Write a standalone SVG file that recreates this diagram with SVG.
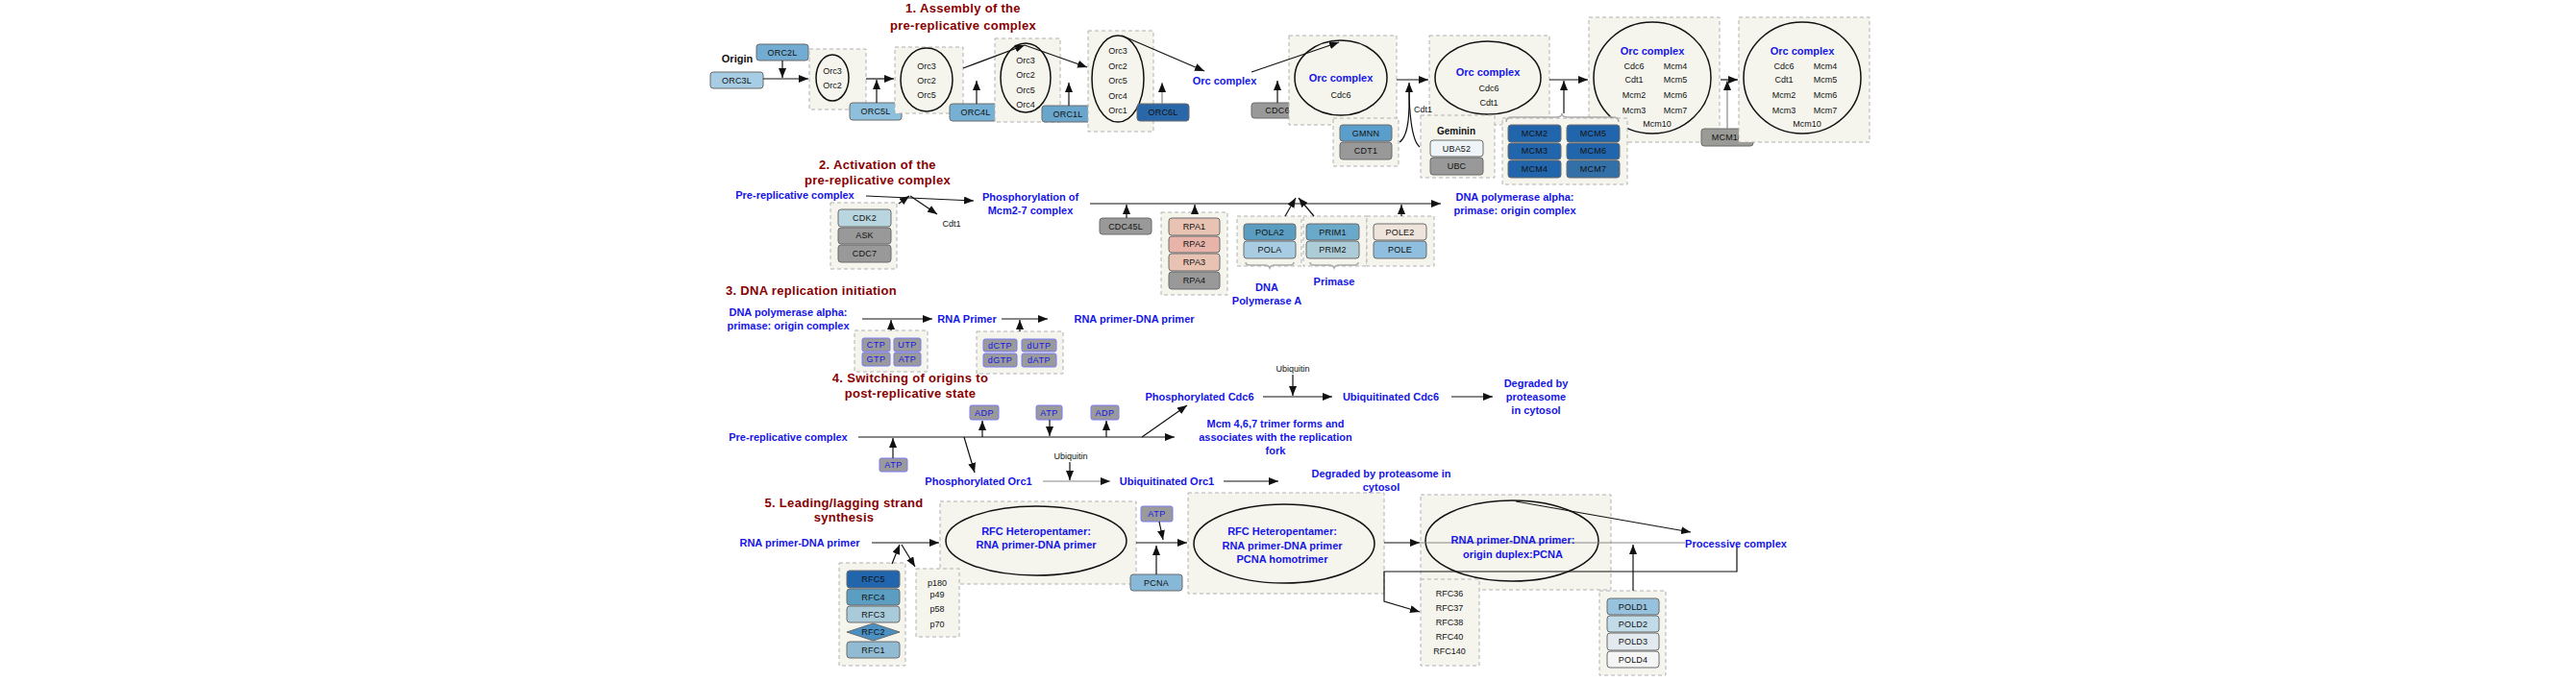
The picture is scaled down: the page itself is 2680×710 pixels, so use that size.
<svg xmlns="http://www.w3.org/2000/svg" width="2680" height="710" viewBox="0 0 2680 710">
<defs>
<marker id="ah" viewBox="0 0 10 8" refX="10" refY="4" markerWidth="10" markerHeight="8" markerUnits="userSpaceOnUse" orient="auto"><path d="M0,0 L10,4 L0,8 z" fill="#111"/></marker>
<style>
.db{fill:#f5f5ee;stroke:#b0b0b0;stroke-width:1;stroke-dasharray:4 3}
.el{fill:#f5f5ee;stroke:#111;stroke-width:1.5}
.gn{stroke:#6a6a6a;stroke-width:1}
.gt{font-family:"Liberation Sans",Arial,sans-serif;font-size:9px;fill:#111;text-anchor:middle;letter-spacing:0.2px}
.st{font-family:"Liberation Sans",Arial,sans-serif;font-size:9px;fill:#111;text-anchor:middle}
.bl{font-family:"Liberation Sans",Arial,sans-serif;font-size:11px;font-weight:bold;fill:#1515e8;text-anchor:middle}
.tt{font-family:"Liberation Sans",Arial,sans-serif;font-size:13px;font-weight:bold;fill:#880000;text-anchor:middle;letter-spacing:0.3px}
.sm{fill:#9a9a9a;stroke:#7b7bf5;stroke-width:1}
.smt{font-family:"Liberation Sans",Arial,sans-serif;font-size:9px;fill:#1515e8;text-anchor:middle;letter-spacing:0.5px}
.br{fill:none;stroke:#aaa;stroke-width:1.5}
#connectors path{stroke:#111;stroke-width:1.2;fill:none}
#connectors path.ar{marker-end:url(#ah)}
#connectors path.gr{stroke:#888}
</style>
</defs>
<rect width="2680" height="710" fill="#fff"/>

<!-- Titles -->
<g id="title1"><text class="tt" x="1002" y="13">1. Assembly of the</text><text class="tt" x="1002" y="31">pre-replicative complex</text></g>
<g id="title2"><text class="tt" x="913" y="176">2. Activation of the</text><text class="tt" x="913" y="192">pre-replicative complex</text></g>
<g id="title3"><text class="tt" x="844" y="307">3. DNA replication initiation</text></g>
<g id="title4"><text class="tt" x="947" y="398">4. Switching of origins to</text><text class="tt" x="947" y="414">post-replicative state</text></g>
<g id="title5"><text class="tt" x="878" y="528">5. Leading/lagging strand</text><text class="tt" x="878" y="543">synthesis</text></g>

<!-- Section 1 -->
<g id="origin"><text x="767" y="65" style="font-family:'Liberation Sans',Arial,sans-serif;font-size:11px;font-weight:bold;fill:#111;text-anchor:middle">Origin</text></g>
<g id="ORC2L"><rect class="gn" x="787" y="46" width="54" height="17" rx="3" fill="#72acd2"/><text class="gt" x="814" y="58">ORC2L</text></g>
<g id="ORC3L"><rect class="gn" x="739" y="75" width="55" height="17" rx="3" fill="#a6cde3"/><text class="gt" x="766.5" y="87">ORC3L</text></g>
<g id="c1"><rect class="db" x="842" y="51" width="59" height="63"/><ellipse class="el" cx="866" cy="81" rx="17" ry="24"/><text class="st" x="866" y="77">Orc3</text><text class="st" x="866" y="92">Orc2</text></g>
<g id="ORC5L"><rect class="gn" x="884" y="107" width="54" height="18" rx="3" fill="#8ebfdc"/><text class="gt" x="911" y="119">ORC5L</text></g>
<g id="c2"><rect class="db" x="931" y="49" width="71" height="69"/><ellipse class="el" cx="964" cy="83" rx="27" ry="33"/><text class="st" x="964" y="72">Orc3</text><text class="st" x="964" y="87">Orc2</text><text class="st" x="964" y="102">Orc5</text></g>
<g id="ORC4L"><rect class="gn" x="988" y="108" width="54" height="18" rx="3" fill="#76b0d4"/><text class="gt" x="1015" y="120">ORC4L</text></g>
<g id="c3"><rect class="db" x="1035" y="40" width="68" height="87"/><ellipse class="el" cx="1067" cy="81" rx="26" ry="36"/><text class="st" x="1067" y="66">Orc3</text><text class="st" x="1067" y="81">Orc2</text><text class="st" x="1067" y="97">Orc5</text><text class="st" x="1067" y="112">Orc4</text></g>
<g id="ORC1L"><rect class="gn" x="1084" y="110" width="54" height="17" rx="3" fill="#6aa6cc"/><text class="gt" x="1111" y="122">ORC1L</text></g>
<g id="c4"><rect class="db" x="1132" y="32" width="68" height="105"/><ellipse class="el" cx="1163" cy="82" rx="27" ry="45"/><text class="st" x="1163" y="56">Orc3</text><text class="st" x="1163" y="72">Orc2</text><text class="st" x="1163" y="87">Orc5</text><text class="st" x="1163" y="103">Orc4</text><text class="st" x="1163" y="118">Orc1</text></g>
<g id="ORC6L"><rect class="gn" x="1183" y="108" width="54" height="18" rx="3" fill="#2a67a9"/><text class="gt" x="1210" y="120">ORC6L</text></g>
<g id="orc-complex"><text class="bl" x="1274" y="88">Orc complex</text></g>
<g id="CDC6"><rect class="gn" x="1302" y="107" width="54" height="16" rx="3" fill="#999"/><text class="gt" x="1329" y="118">CDC6</text></g>
<g id="c5"><rect class="db" x="1341" y="37" width="112" height="93"/><ellipse class="el" cx="1395" cy="81" rx="48" ry="39"/><text class="bl" x="1395" y="85">Orc complex</text><text class="st" x="1395" y="102">Cdc6</text></g>
<g id="gmnn-cdt1"><rect class="db" x="1387" y="123" width="68" height="50"/><rect class="gn" x="1394" y="130" width="54" height="17" rx="3" fill="#5a9ecb"/><text class="gt" x="1421" y="142">GMNN</text><rect class="gn" x="1394" y="148" width="54" height="18" rx="3" fill="#999"/><text class="gt" x="1421" y="160">CDT1</text></g>
<g id="c6"><rect class="db" x="1487" y="37" width="125" height="93"/><ellipse class="el" cx="1548" cy="81" rx="55" ry="38"/><text class="bl" x="1548" y="79">Orc complex</text><text class="st" x="1549" y="95">Cdc6</text><text class="st" x="1549" y="110">Cdt1</text></g>
<g id="cdt1-label"><text x="1471" y="117" style="font-family:'Liberation Sans',Arial,sans-serif;font-size:9px;fill:#111">Cdt1</text></g>
<g id="geminin"><rect class="db" x="1478" y="120" width="77" height="65"/><text x="1515" y="140" style="font-family:'Liberation Sans',Arial,sans-serif;font-size:10px;font-weight:bold;fill:#111;text-anchor:middle">Geminin</text><rect class="gn" x="1488" y="146" width="55" height="17" rx="3" fill="#eef4f8"/><text class="gt" x="1515.5" y="158">UBA52</text><rect class="gn" x="1488" y="164" width="55" height="18" rx="3" fill="#999"/><text class="gt" x="1515.5" y="176">UBC</text></g>
<g id="c7"><rect class="db" x="1653" y="18" width="136" height="130"/><ellipse class="el" cx="1719" cy="81" rx="61" ry="58"/><text class="bl" x="1719" y="57">Orc complex</text><text class="st" x="1700" y="72">Cdc6</text><text class="st" x="1743" y="72">Mcm4</text><text class="st" x="1700" y="86">Cdt1</text><text class="st" x="1743" y="86">Mcm5</text><text class="st" x="1700" y="102">Mcm2</text><text class="st" x="1743" y="102">Mcm6</text><text class="st" x="1700" y="118">Mcm3</text><text class="st" x="1743" y="118">Mcm7</text><text class="st" x="1724" y="132">Mcm10</text></g>
<g id="mcm"><rect class="db" x="1563" y="123" width="130" height="69"/><path class="br" d="M1567,127 q0,-5 6,-5 h46 q6,0 6,-4 q0,4 6,4 h47 q6,0 6,5"/>
<rect class="gn" x="1569" y="130" width="55" height="18" rx="3" fill="#2166ac"/><text class="gt" x="1596.5" y="142">MCM2</text>
<rect class="gn" x="1630" y="130" width="55" height="18" rx="3" fill="#2166ac"/><text class="gt" x="1657.5" y="142">MCM5</text>
<rect class="gn" x="1569" y="149" width="55" height="17" rx="3" fill="#2166ac"/><text class="gt" x="1596.5" y="160">MCM3</text>
<rect class="gn" x="1630" y="149" width="55" height="17" rx="3" fill="#2166ac"/><text class="gt" x="1657.5" y="160">MCM6</text>
<rect class="gn" x="1569" y="167" width="55" height="18" rx="3" fill="#2166ac"/><text class="gt" x="1596.5" y="179">MCM4</text>
<rect class="gn" x="1630" y="167" width="55" height="18" rx="3" fill="#3470a8"/><text class="gt" x="1657.5" y="179">MCM7</text></g>
<g id="MCM10"><rect class="gn" x="1770" y="134" width="54" height="18" rx="3" fill="#9a9a96"/><text class="gt" x="1797" y="146">MCM10</text></g>
<g id="c8"><rect class="db" x="1809" y="18" width="136" height="130"/><ellipse class="el" cx="1875" cy="81" rx="61" ry="58"/><text class="bl" x="1875" y="57">Orc complex</text><text class="st" x="1856" y="72">Cdc6</text><text class="st" x="1899" y="72">Mcm4</text><text class="st" x="1856" y="86">Cdt1</text><text class="st" x="1899" y="86">Mcm5</text><text class="st" x="1856" y="102">Mcm2</text><text class="st" x="1899" y="102">Mcm6</text><text class="st" x="1856" y="118">Mcm3</text><text class="st" x="1899" y="118">Mcm7</text><text class="st" x="1880" y="132">Mcm10</text></g>

<!-- Section 2 -->
<g id="prerc2"><text class="bl" x="827" y="207">Pre-replicative complex</text></g>
<g id="cdk"><rect class="db" x="864" y="211" width="69" height="69"/><rect class="gn" x="872" y="218" width="55" height="18" rx="3" fill="#b8d5e0"/><text class="gt" x="899.5" y="230">CDK2</text><rect class="gn" x="872" y="237" width="55" height="17" rx="3" fill="#999"/><text class="gt" x="899.5" y="248">ASK</text><rect class="gn" x="872" y="255" width="55" height="18" rx="3" fill="#999"/><text class="gt" x="899.5" y="267">CDC7</text></g>
<g id="cdt1-2"><text class="st" x="990" y="236">Cdt1</text></g>
<g id="phos-mcm"><text class="bl" x="1072" y="209">Phosphorylation of</text><text class="bl" x="1072" y="223">Mcm2-7 complex</text></g>
<g id="CDC45L"><rect class="gn" x="1144" y="227" width="54" height="17" rx="3" fill="#999"/><text class="gt" x="1171" y="239">CDC45L</text></g>
<g id="rpa"><rect class="db" x="1208" y="221" width="69" height="86"/>
<rect class="gn" x="1216" y="227" width="53" height="18" rx="3" fill="#e8c2b2"/><text class="gt" x="1242.5" y="239">RPA1</text>
<rect class="gn" x="1216" y="246" width="53" height="17" rx="3" fill="#e8b4aa"/><text class="gt" x="1242.5" y="257">RPA2</text>
<rect class="gn" x="1216" y="264" width="53" height="18" rx="3" fill="#e8c2b2"/><text class="gt" x="1242.5" y="276">RPA3</text>
<rect class="gn" x="1216" y="283" width="53" height="18" rx="3" fill="#999"/><text class="gt" x="1242.5" y="295">RPA4</text></g>
<g id="pola"><rect class="db" x="1287" y="225" width="67" height="52"/>
<rect class="gn" x="1294" y="233" width="54" height="17" rx="3" fill="#5b9dc0"/><text class="gt" x="1321" y="245">POLA2</text>
<rect class="gn" x="1294" y="251" width="54" height="18" rx="3" fill="#a8cde3"/><text class="gt" x="1321" y="263">POLA</text>
<path class="br" d="M1296,273 q0,3 4,3 h16 q4,0 5,3 q1,-3 5,-3 h16 q4,0 4,-3"/>
<text class="bl" x="1318" y="303">DNA</text><text class="bl" x="1318" y="317">Polymerase A</text></g>
<g id="primase"><rect class="db" x="1356" y="225" width="66" height="52"/>
<rect class="gn" x="1359" y="233" width="55" height="17" rx="3" fill="#6aa9c9"/><text class="gt" x="1386.5" y="245">PRIM1</text>
<rect class="gn" x="1359" y="251" width="55" height="18" rx="3" fill="#acccd8"/><text class="gt" x="1386.5" y="263">PRIM2</text>
<path class="br" d="M1363,273 q0,3 4,3 h16 q4,0 5,3 q1,-3 5,-3 h16 q4,0 4,-3"/>
<text class="bl" x="1388" y="297">Primase</text></g>
<g id="pole"><rect class="db" x="1422" y="225" width="70" height="52"/>
<rect class="gn" x="1429" y="233" width="55" height="17" rx="3" fill="#efe4dc"/><text class="gt" x="1456.5" y="245">POLE2</text>
<rect class="gn" x="1429" y="251" width="55" height="18" rx="3" fill="#90bede"/><text class="gt" x="1456.5" y="263">POLE</text></g>
<g id="polprim"><text class="bl" x="1576" y="209">DNA polymerase alpha:</text><text class="bl" x="1576" y="223">primase: origin complex</text></g>

<!-- Section 3 -->
<g id="polprim3"><text class="bl" x="820" y="329">DNA polymerase alpha:</text><text class="bl" x="820" y="343">primase: origin complex</text></g>
<g id="rnaprimer"><text class="bl" x="1006" y="336">RNA Primer</text></g>
<g id="rnadna3"><text class="bl" x="1180" y="336">RNA primer-DNA primer</text></g>
<g id="ntp"><rect class="db" x="889" y="344" width="76" height="43"/>
<rect class="sm" x="897" y="352" width="29" height="14" rx="2"/><text class="smt" x="911.5" y="362">CTP</text>
<rect class="sm" x="930" y="352" width="28" height="14" rx="2"/><text class="smt" x="944" y="362">UTP</text>
<rect class="sm" x="897" y="367" width="29" height="14" rx="2"/><text class="smt" x="911.5" y="377">GTP</text>
<rect class="sm" x="930" y="367" width="28" height="14" rx="2"/><text class="smt" x="944" y="377">ATP</text></g>
<g id="dntp"><rect class="db" x="1016" y="345" width="90" height="44"/>
<rect class="sm" x="1023" y="353" width="35" height="13" rx="2"/><text class="smt" x="1040.5" y="363">dCTP</text>
<rect class="sm" x="1063" y="353" width="36" height="13" rx="2"/><text class="smt" x="1081" y="363">dUTP</text>
<rect class="sm" x="1023" y="368" width="35" height="14" rx="2"/><text class="smt" x="1040.5" y="378">dGTP</text>
<rect class="sm" x="1063" y="368" width="36" height="14" rx="2"/><text class="smt" x="1081" y="378">dATP</text></g>

<!-- Section 4 -->
<g id="prerc4"><text class="bl" x="820" y="459">Pre-replicative complex</text></g>
<g id="atp4a"><rect class="sm" x="915" y="477" width="29" height="14" rx="2"/><text class="smt" x="929.5" y="487">ATP</text></g>
<g id="adp4a"><rect class="sm" x="1009" y="422" width="30" height="15" rx="2"/><text class="smt" x="1024" y="433">ADP</text></g>
<g id="atp4b"><rect class="sm" x="1078" y="422" width="27" height="15" rx="2"/><text class="smt" x="1091.5" y="433">ATP</text></g>
<g id="adp4b"><rect class="sm" x="1135" y="422" width="29" height="15" rx="2"/><text class="smt" x="1149.5" y="433">ADP</text></g>
<g id="phos-orc1"><text class="bl" x="1018" y="505">Phosphorylated Orc1</text></g>
<g id="ubq1"><text class="st" x="1114" y="478">Ubiquitin</text></g>
<g id="ubiq-orc1"><text class="bl" x="1214" y="505">Ubiquitinated Orc1</text></g>
<g id="degr1"><text class="bl" x="1437" y="497">Degraded by proteasome in</text><text class="bl" x="1437" y="511">cytosol</text></g>
<g id="phos-cdc6"><text class="bl" x="1248" y="417">Phosphorylated Cdc6</text></g>
<g id="ubq2"><text class="st" x="1345" y="387">Ubiquitin</text></g>
<g id="ubiq-cdc6"><text class="bl" x="1447" y="417">Ubiquitinated Cdc6</text></g>
<g id="degr2"><text class="bl" x="1598" y="403">Degraded by</text><text class="bl" x="1598" y="417">proteasome</text><text class="bl" x="1598" y="431">in cytosol</text></g>
<g id="mcm467"><text class="bl" x="1327" y="445">Mcm 4,6,7 trimer forms and</text><text class="bl" x="1327" y="459">associates with the replication</text><text class="bl" x="1327" y="473">fork</text></g>

<!-- Section 5 -->
<g id="rnadna5"><text class="bl" x="832" y="569">RNA primer-DNA primer</text></g>
<g id="rfc"><rect class="db" x="873" y="586" width="69" height="107"/>
<rect class="gn" x="881" y="594" width="55" height="18" rx="3" fill="#2166ac"/><text class="gt" x="908.5" y="606">RFC5</text>
<rect class="gn" x="881" y="613" width="55" height="17" rx="3" fill="#5c9ec2"/><text class="gt" x="908.5" y="625">RFC4</text>
<rect class="gn" x="881" y="631" width="55" height="17" rx="3" fill="#a9cbd9"/><text class="gt" x="908.5" y="643">RFC3</text>
<polygon class="gn" points="881,658 908.5,649 936,658 908.5,667" fill="#4a90c2"/><text class="gt" x="908.5" y="661">RFC2</text>
<rect class="gn" x="881" y="668" width="55" height="17" rx="3" fill="#90bbd2"/><text class="gt" x="908.5" y="680">RFC1</text></g>
<g id="rfch1"><rect class="db" x="978" y="522" width="204" height="86"/><ellipse class="el" cx="1078" cy="563" rx="94" ry="36"/><text class="bl" x="1078" y="557">RFC Heteropentamer:</text><text class="bl" x="1078" y="571">RNA primer-DNA primer</text></g>
<g id="pfc"><rect class="db" x="953" y="592" width="45" height="71"/><text class="st" x="975" y="610">p180</text><text class="st" x="975" y="622">p49</text><text class="st" x="975" y="637">p58</text><text class="st" x="975" y="653">p70</text></g>
<g id="atp5"><rect class="sm" x="1187" y="527" width="33" height="16" rx="2"/><text class="smt" x="1203.5" y="538">ATP</text></g>
<g id="PCNA"><rect class="gn" x="1176" y="598" width="54" height="17" rx="3" fill="#88b8d8"/><text class="gt" x="1203" y="610">PCNA</text></g>
<g id="rfch2"><rect class="db" x="1236" y="513" width="204" height="105"/><ellipse class="el" cx="1336" cy="566" rx="94" ry="41"/><text class="bl" x="1334" y="557">RFC Heteropentamer:</text><text class="bl" x="1334" y="572">RNA primer-DNA primer</text><text class="bl" x="1334" y="586">PCNA homotrimer</text></g>
<g id="duplex"><rect class="db" x="1478" y="515" width="198" height="99"/><ellipse class="el" cx="1573" cy="563" rx="90" ry="42"/></g>
<g id="rfc36"><rect class="db" x="1478" y="603" width="61" height="90"/><text class="st" x="1508" y="621">RFC36</text><text class="st" x="1508" y="636">RFC37</text><text class="st" x="1508" y="651">RFC38</text><text class="st" x="1508" y="666">RFC40</text><text class="st" x="1508" y="681">RFC140</text></g>
<g id="pold"><rect class="db" x="1664" y="615" width="69" height="88"/>
<rect class="gn" x="1672" y="623" width="54" height="17" rx="3" fill="#96c2de"/><text class="gt" x="1699" y="635">POLD1</text>
<rect class="gn" x="1672" y="641" width="54" height="17" rx="3" fill="#c2dbe8"/><text class="gt" x="1699" y="653">POLD2</text>
<rect class="gn" x="1672" y="659" width="54" height="18" rx="3" fill="#e2eaf0"/><text class="gt" x="1699" y="671">POLD3</text>
<rect class="gn" x="1672" y="678" width="54" height="17" rx="3" fill="#f5f5f5"/><text class="gt" x="1699" y="690">POLD4</text></g>

<!-- Connectors -->
<g id="connectors">
<path class="ar" d="M794,82 H841"/>
<path class="ar" d="M814,63 V81"/>
<path class="ar" d="M901,82 H930"/>
<path class="ar" d="M912,107 V83"/>
<path class="ar" d="M1002,71 L1066,47"/>
<path class="ar" d="M1016,108 V84"/>
<path class="ar" d="M1066,47 L1131,70"/>
<path class="ar" d="M1112,110 V86"/>
<path class="ar" d="M1167,37 L1253,74"/>
<path class="ar gr" d="M1209,108 V86"/>
<path class="ar" d="M1302,75 L1393,44"/>
<path class="ar" d="M1329,107 V84"/>
<path class="ar" d="M1453,83 H1486"/>
<path class="ar" d="M1456,148 C1468,140 1466,105 1466,86"/>
<path d="M1477,153 C1468,146 1466,112 1466,92"/>
<path class="ar" d="M1612,83 H1652"/>
<path class="ar" d="M1627,118 V84"/>
<path class="ar" d="M1790,83 H1808"/>
<path class="ar gr" d="M1797,134 V84"/>

<path class="ar" d="M901,204 L1013,209"/>
<path class="ar" d="M935,212 L946,204"/>
<path class="ar" d="M947,204 L975,223"/>
<path class="ar" d="M1134,212 H1499"/>
<path class="ar" d="M1172,227 V213"/>
<path class="ar" d="M1243,221 V213"/>
<path class="ar" d="M1337,225 L1348,206"/>
<path class="ar" d="M1367,225 L1351,206"/>
<path class="ar" d="M1458,225 V213"/>

<path class="ar" d="M897,332 H970"/>
<path class="ar" d="M927,344 V333"/>
<path class="ar" d="M1042,332 H1090"/>
<path class="ar" d="M1061,345 V333"/>

<path class="ar" d="M893,455 H1222"/>
<path class="ar" d="M929,477 V456"/>
<path class="ar" d="M1022,455 V438"/>
<path class="ar" d="M1092,437 V454"/>
<path class="ar" d="M1151,455 V438"/>
<path class="ar" d="M1003,455 L1014,492"/>
<path class="ar gr" d="M1085,501 H1155"/>
<path class="ar" d="M1113,481 V500"/>
<path class="ar" d="M1273,501 H1330"/>
<path class="ar" d="M1188,455 L1235,422"/>
<path class="ar" d="M1314,413 H1386"/>
<path class="ar" d="M1345,390 V412"/>
<path class="ar" d="M1510,413 H1553"/>

<path class="ar" d="M907,565 H977"/>
<path class="ar" d="M928,587 L936,567"/>
<path class="ar" d="M938,567 L952,590"/>
<path class="ar" d="M1182,565 H1235"/>
<path class="ar" d="M1206,543 L1210,562"/>
<path class="ar" d="M1203,598 V568"/>
<path class="ar" d="M1440,565 H1477"/>
<path class="gr" d="M1477,565 H1753"/>
<path class="ar" d="M1577,522 L1759,554"/>
<path class="ar" d="M1699,615 V567"/>
<path class="ar" d="M1807,568 V595 H1440 V626 L1477,637"/>
</g>
<g id="duplex-label"><text class="bl" x="1574" y="566">RNA primer-DNA primer:</text><text class="bl" x="1574" y="581">origin duplex:PCNA</text></g>
<g id="processive"><text class="bl" x="1806" y="570">Processive complex</text></g>
</svg>
